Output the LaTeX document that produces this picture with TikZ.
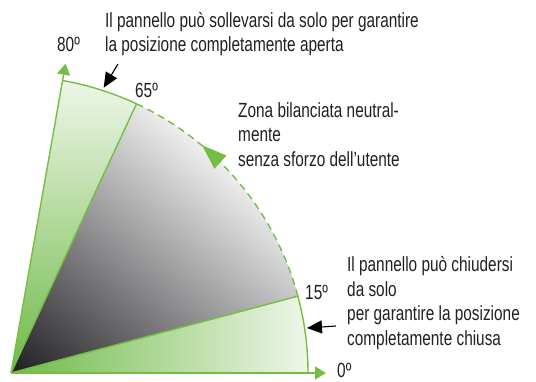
\documentclass[tikz,border=0pt]{standalone}
\usepackage{fontspec}
\setmainfont{Liberation Sans}[FakeStretch=0.75]
\usetikzlibrary{arrows.meta,calc}
\definecolor{gline}{RGB}{118,189,67}
\definecolor{gdark}{RGB}{112,186,72}
\definecolor{gpale}{RGB}{238,246,232}
\definecolor{gdeep}{RGB}{30,30,34}
\definecolor{gmid}{RGB}{128,128,133}
\definecolor{txt}{RGB}{35,31,32}
\begin{document}
\begin{tikzpicture}[x=1pt,y=1pt,
  gl/.style={draw=gline, line width=1.4pt},
  lbl/.style={font=\fontsize{20.5}{24}\selectfont, text=txt, inner sep=0pt, anchor=base west},
  callout/.style={draw=black, line width=1.1pt, -{Triangle[length=15pt,width=13pt]}},
  axisarrow/.style={gl, -{Triangle[length=11pt,width=13pt,fill=gline]}}]
\useasboundingbox (-11,-9) rectangle (525,373);
\def\R{297}
\coordinate (O) at (0,0);
\coordinate (A0) at (0:\R);
\coordinate (A15) at (15:\R);
\coordinate (A65) at (65:\R);
\coordinate (A72) at (72:\R+3);
\coordinate (A80) at (80:\R);
\coordinate (X0) at (0:315);
\coordinate (X80) at (80:314);
\coordinate (C1) at (107,309);
\coordinate (C2) at (325,47);
\coordinate (T2) at (296,45);

% 0-15 sector
\shade[left color=gdark, right color=gpale] (O) -- (A0) arc[start angle=0,end angle=15,radius=\R] -- cycle;
% 65-80 sector
\shade[bottom color=gdark, top color=gpale] (O) -- (A65) arc[start angle=65,end angle=80,radius=\R] -- cycle;
% neutral zone
\begin{scope}
  \clip (O) -- (A15) arc[start angle=15,end angle=65,radius=\R] -- cycle;
  \begin{scope}[transform canvas={rotate=50}]
    \shade[left color=gdeep, middle color=gmid, right color=white] (0,-340) rectangle (320,340);
  \end{scope}
\end{scope}

% lines
\draw[axisarrow] (O) -- (X0);
\draw[axisarrow] (O) -- (X80);
\draw[gl] (O) -- (A15);
\draw[gl] (O) -- (A65);
\draw[gl] (A0) arc[start angle=0,end angle=15,radius=\R];
\draw[gl] (A65) arc[start angle=65,end angle=80,radius=\R];
\draw[gl, dash pattern=on 7pt off 5pt] (A15) arc[start angle=15,end angle=65,radius=\R];
% arrow on dashed arc
\begin{scope}[shift={(47.5:\R)}, rotate=47.5]
  \fill[gline] (0,13) -- (-9,-12) -- (9,-12) -- cycle;
\end{scope}

% callout arrows
\draw[callout] (C1) -- (A72);
\draw[callout] (C2) -- (T2);

% angle labels
\node[lbl] (l80) at (46,321) {80º};
\node[lbl] (l65) at (124,275) {65º};
\node[lbl] (l15) at (294,73) {15º};
\node[lbl] (l0) at (326,-5) {0º};

% texts
\node[lbl] (t1) at (94,345) {Il pannello può sollevarsi da solo per garantire};
\node[lbl] (t2) at (94,321) {la posizione completamente aperta};
\node[lbl] (m1) at (227,255) {Zona bilanciata neutral-};
\node[lbl] (m2) at (227,231) {mente};
\node[lbl] (m3) at (227,206) {senza sforzo dell'utente};
\node[lbl] (b1) at (336,101) {Il pannello può chiudersi};
\node[lbl] (b2) at (336,76.5) {da solo};
\node[lbl] (b3) at (336,52) {per garantire la posizione};
\node[lbl] (b4) at (336,27.5) {completamente chiusa};
\end{tikzpicture}
\end{document}
